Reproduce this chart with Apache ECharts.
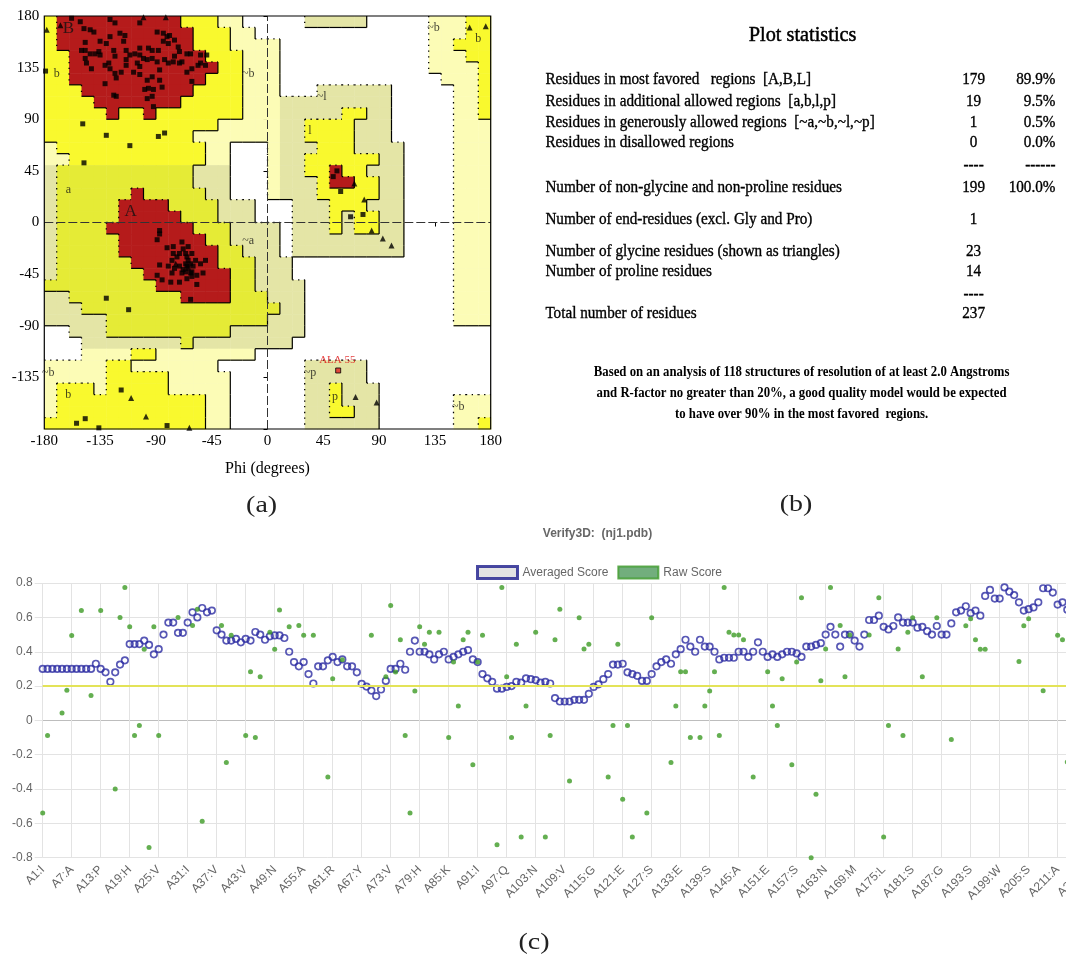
<!DOCTYPE html>
<html><head><meta charset="utf-8">
<script src="https://cdn.jsdelivr.net/npm/echarts@6/dist/echarts.min.js"></script>
<style>
html,body{margin:0;padding:0;background:#fff;overflow:hidden;width:1066px;height:957px}
#c{width:1194px;height:957px}
</style></head>
<body><div id="c"></div>
<script>
// ================= DATA =================
// ---- (a) Ramachandran plot ----
const RAMA_TICKS = [-180, -135, -90, -45, 0, 45, 90, 135, 180];
// region map, 10-degree cells, rows from psi 180 down to -180, columns phi -180 -> 180
// '.' disallowed, 'c'/'o' generously allowed, 'Y'/'y' additional allowed, 'R' most favoured (run-length coded)
const REGION_ROWS = [
"Y1 R10 Y3 c2 .5 o5 .5 c3 Y2",
"Y1 R11 Y3 c2 .14 c3 Y2",
"Y1 R11 Y3 c4 .12 c2 Y3",
"Y2 R11 Y3 c3 .12 c3 Y2",
"Y2 R12 Y2 c3 .12 c4 Y1",
"Y2 R11 Y3 c3 .13 c3 Y1",
"Y3 R9 Y4 c3 .3 o6 .5 c2 Y1",
"Y4 R7 Y5 c3 o9 .5 c2 Y1",
"Y5 R1 Y2 R1 Y7 c3 o5 Y2 o2 .5 c2 Y1",
"Y14 c5 o2 Y4 o3 .5 c3",
"Y12 c7 o2 Y4 o3 .5 c3",
"c1 Y12 c2 .3 c1 o3 Y3 o4 .4 c3",
"c2 Y11 c2 .3 c1 o2 Y6 o2 .4 c3",
"o1 y11 o3 .3 c1 o2 Y2 R1 Y2 o3 .4 c3",
"o1 y11 o3 .3 c1 o3 Y1 R2 Y2 o2 .4 c3",
"o1 y6 R1 y5 o2 .3 c1 o3 Y5 o2 .4 c3",
"o1 y5 R4 y4 o3 .3 o3 Y3 o3 .4 c3",
"o1 y5 R5 y3 o3 .3 o3 Y1 o1 Y2 o2 .4 c3",
"o1 y4 R7 y3 o4 .1 o3 Y1 o1 Y2 o2 .4 c3",
"o1 y5 R7 y2 o4 .1 o9 .4 c3",
"o1 y5 R8 y2 o3 .1 o9 .4 c3",
"o1 y6 R7 y3 o3 .13 c3",
"o1 y7 R7 y2 o3 .13 c3",
"y9 R6 y2 o4 .12 c3",
"o2 y9 R4 y3 o3 .12 c3",
"o3 y16 o2 .12 c3",
"o5 y13 o3 .12 c3",
".2 o3 y10 o6 .15",
".3 o8 y1 o8 .16",
".3 c4 Y2 c8 .19",
"c5 Y2 c7 .7 o5 .10",
"c5 Y5 c5 .6 o5 .10",
"c1 Y3 c1 Y5 c5 .6 o2 Y1 o3 .9",
"c1 Y12 c2 .6 o2 Y1 o3 .6 c3",
"c1 Y12 c2 .6 o2 Y2 o2 .6 c3",
"Y13 c2 .6 o6 .6 c2 Y1"
];
// non-glycine residues (squares)
const SQ_PHI = [-158,-151,-148,-143,-140,-127,-123,-103,-89,-84,-81,-80,-75,-72,-71,-65,-62,-54,-49,-54,-50,-61,-65,-61,-71,-76,-83,-89,-93,-100,-97,-103,-107,-111,-105,-108,-103,-97,-96,-99,-92,-87,-85,-93,-103,-114,-114,-116,-115,-119,-127,-130,-135,-136,-135,-139,-143,-147,-146,-142,-147,-150,-147,-131,-128,-127,-123,-122,-118,-114,-123,-124,-131,-124,-122,-97,-93,-92,-87,-80,-75,-69,-56,-79,-84,-93,-88,-96,-103,
 -149,-130,-88,-83,-111,-148,-179,
 -87,-87,-89,-81,-76,-69,-68,-66,-65,-64,-62,-65,-66,-62,-60,-58,-61,-64,-71,-73,-76,-77,-80,-87,-89,-85,-78,-77,-71,-69,-65,-61,-57,-52,-50,-54,-57,-62,-71,-75,-66,-64,-68,-61,
 -130,-112,53,56,59,67,77,-118,-147,-154,-136,-81];
const SQ_PSI = [178,175,169,168,166,177,174,174,166,165,162,156,159,153,149,147,147,146,146,139,137,134,131,123,139,140,142,140,143,143,142,146,147,146,139,131,129,124,117,116,116,124,118,127,136,142,150,158,163,165,162,156,158,149,146,147,147,143,139,134,150,150,157,137,139,134,130,126,131,137,145,150,121,111,110,108,110,101,133,139,145,140,137,163,158,150,150,152,152,
 86,76,75,78,67,52,132,
 -7,-10,-15,-22,-21,-17,-23,-27,-30,-33,-36,-38,-43,-44,-38,-33,-27,-21,-27,-30,-27,-33,-38,-37,-46,-50,-52,-44,-38,-44,-49,-47,-46,-44,-33,-36,-54,-67,-52,-40,-36,-40,-41,-43,
 -66,-76,40,45,27,5,7,-146,-171,-175,-179,-177];
// glycine residues (triangles)
const TRI_PHI = [-178,-100,-82,-167,-74,70,78,84,93,100,71,88,-110,-98,-63,163,176];
const TRI_PSI = [168,179,179,172,-36,34,20,-7,-14,-20,-152,-157,-153,-169,-179,170,171];
// labelled outlier
const OUT_NAME = ['ALA 55'];
const OUT_PHI = [57];
const OUT_PSI = [-129];
// region letters
const REGION_TEXT = ['B','A','b','a','~b','~l','l','~a','~b','b','~b','b','~p','p','~b'];
const REGION_TEXT_PHI = [-160.6,-110.4,-170,-160.6,-15.5,43.7,34.3,-15.5,133.8,170,-176.8,-160.6,34.3,54.4,153.9];
const REGION_TEXT_PSI = [169.3,9.5,129.4,28.3,129.4,109.7,80.1,-15.8,169.3,159.7,-130.9,-150.3,-131.4,-151.8,-161.1];

// ---- (b) plot statistics ----
const STAT_TITLE = 'Plot statistics';
const STAT_LABELS = ['Residues in most favored   regions  [A,B,L]','Residues in additional allowed regions  [a,b,l,p]','Residues in generously allowed regions  [~a,~b,~l,~p]','Residues in disallowed regions','','Number of non-glycine and non-proline residues','Number of end-residues (excl. Gly and Pro)','Number of glycine residues (shown as triangles)','Number of proline residues','','Total number of residues'];
const STAT_COUNTS = ['179','19','1','0','----','199','1','23','14','----','237'];
const STAT_PCTS = ['89.9%','9.5%','0.5%','0.0%','------','100.0%','','','','',''];
const NOTE_LINES = ['Based on an analysis of 118 structures of resolution of at least 2.0 Angstroms','and R-factor no greater than 20%, a good quality model would be expected','to have over 90% in the most favored  regions.'];
const CAPTIONS = ['(a)','(b)','(c)'];

// ---- (c) Verify3D ----
const V3D_TITLE = 'Verify3D:  (nj1.pdb)';
const RESIDUE_COUNT = 237;
const TICK_LABELS = ['A1:I','A7:A','A13:P','A19:H','A25:V','A31:I','A37:V','A43:V','A49:N','A55:A','A61:R','A67:Y','A73:V','A79:H','A85:K','A91:I','A97:Q','A103:N','A109:V','A115:G','A121:E','A127:S','A133:E','A139:S','A145:A','A151:E','A157:S','A163:N','A169:M','A175:L','A181:S','A187:G','A193:S','A199:W','A205:S','A211:A','A217:  ','A223:  ','A229:  ','A235:  '];
const Y_TICKS = [-0.8,-0.6,-0.4,-0.2,0,0.2,0.4,0.6,0.8];
const AVG_SCORE = [
0.30,0.30,0.30,0.30,0.30,0.30,0.30,0.30,0.30,0.30,
0.30,0.33,0.30,0.28,0.225,0.28,0.325,0.35,0.445,0.445,
0.445,0.465,0.44,0.385,0.415,0.50,0.57,0.57,0.51,0.51,
0.57,0.63,0.60,0.655,0.63,0.64,0.525,0.50,0.465,0.465,
0.475,0.455,0.475,0.465,0.515,0.50,0.47,0.49,0.495,0.495,
0.48,0.40,0.34,0.315,0.34,0.27,0.215,0.315,0.315,0.35,
0.37,0.34,0.355,0.315,0.315,0.28,0.213,0.197,0.174,0.142,
0.18,0.23,0.30,0.30,0.33,0.295,0.40,0.465,0.40,0.40,
0.385,0.355,0.385,0.40,0.355,0.37,0.385,0.40,0.41,0.355,
0.34,0.27,0.245,0.225,0.185,0.185,0.195,0.20,0.225,0.22,
0.245,0.24,0.235,0.22,0.225,0.215,0.13,0.11,0.11,0.11,
0.12,0.12,0.12,0.155,0.195,0.21,0.24,0.27,0.325,0.325,
0.33,0.28,0.27,0.26,0.23,0.23,0.27,0.315,0.34,0.355,
0.33,0.385,0.415,0.47,0.43,0.40,0.47,0.43,0.43,0.40,
0.355,0.365,0.365,0.365,0.40,0.40,0.37,0.40,0.455,0.40,
0.37,0.385,0.37,0.385,0.40,0.40,0.39,0.37,0.43,0.43,
0.44,0.45,0.50,0.545,0.50,0.43,0.50,0.50,0.465,0.43,
0.50,0.585,0.585,0.61,0.545,0.53,0.55,0.60,0.57,0.57,
0.57,0.54,0.545,0.52,0.50,0.55,0.50,0.50,0.565,0.63,
0.64,0.665,0.625,0.64,0.61,0.725,0.76,0.71,0.71,0.775,
0.75,0.73,0.688,0.64,0.648,0.658,0.688,0.77,0.77,0.745,
0.675,0.688,0.645];
const RAW_RESIDUE = [1,2,5,6,7,9,11,13,16,17,18,19,20,21,22,23,24,25,29,32,33,34,38,39,40,43,44,45,46,48,49,50,52,54,55,57,60,61,63,69,72,73,74,75,76,77,78,79,80,81,83,85,86,87,88,89,90,91,92,95,96,97,98,99,100,101,103,105,106,107,108,110,112,113,114,118,119,120,121,122,123,126,127,131,132,133,134,135,137,138,139,140,141,142,143,144,145,146,148,151,152,153,154,156,157,158,160,161,162,163,164,166,167,168,172,174,175,176,178,179,180,181,183,186,189,192,193,194,195,196,203,204,205,208,211,212,213];
const RAW_SCORE = [-0.54,-0.088,0.043,0.175,0.495,0.64,0.145,0.64,-0.40,0.60,0.775,0.545,-0.088,-0.029,0.415,-0.74,0.545,-0.088,0.60,0.553,0.647,-0.587,0.553,-0.246,0.496,-0.088,0.284,-0.10,0.255,0.513,0.415,0.643,0.545,0.553,0.496,0.496,-0.33,0.243,0.353,0.496,0.255,0.67,0.282,0.47,-0.088,-0.54,0.172,0.545,0.443,0.513,0.513,-0.10,0.341,0.084,0.47,0.513,-0.258,0.34,0.496,-0.724,0.775,0.255,-0.10,0.443,-0.68,0.084,0.513,-0.68,-0.088,0.47,0.647,-0.353,0.598,0.416,0.443,-0.33,-0.029,0.443,-0.459,-0.029,-0.68,-0.54,0.598,-0.246,0.084,0.284,0.284,-0.10,-0.10,0.084,0.172,0.284,-0.088,0.775,0.514,0.498,0.498,0.47,-0.33,0.284,0.084,-0.029,0.243,-0.258,0.341,0.714,-0.80,-0.43,0.231,0.416,0.775,0.553,0.255,0.498,0.498,0.714,-0.68,-0.029,0.416,-0.088,0.514,0.598,0.255,0.598,-0.111,0.552,0.593,0.47,0.415,0.415,0.343,0.552,0.593,0.173,0.496,0.47,-0.242];

// ================= BUILD =================
const SERIF = '"Liberation Serif", "Times New Roman", serif';
const SANS = '"Liberation Sans", Arial, sans-serif';
const CODE_LIST = ['.', 'c', 'o', 'Y', 'y', 'R'];
const CODE_COLOR = ['#ffffff', '#fcfcb6', '#e4e5a6', '#f9f92e', '#e5eb36', '#b51b1b'];
const CODE_LEVEL = [0, 1, 1, 2, 2, 3];

const grid = REGION_ROWS.map(row => {
  const out = [];
  row.split(' ').forEach(tok => { const c = CODE_LIST.indexOf(tok[0]); const n = parseInt(tok.slice(1), 10); for (let i = 0; i < n; i++) out.push(c); });
  if (out.length !== 36) console.warn('row length', out.length, row);
  return out;
});
const cellData = [], edgeData = [];
for (let r = 0; r < 36; r++) {
  for (let k = 0; k < 36; k++) {
    const phi = -180 + 10 * k, psiTop = 180 - 10 * r, psiBot = psiTop - 10;
    const code = grid[r][k];
    if (code !== 0) cellData.push([phi, psiBot, code]);
    const L = CODE_LEVEL[code];
    if (k < 35) {
      const L2 = CODE_LEVEL[grid[r][k + 1]];
      if (L2 !== L) edgeData.push([phi + 10, psiTop, phi + 10, psiBot, L < L2 ? 1 : 0]);
    }
    if (r < 35) {
      const L2 = CODE_LEVEL[grid[r + 1][k]];
      if (L2 !== L) edgeData.push([phi, psiBot, phi + 10, psiBot, L < L2 ? 1 : 0]);
    }
  }
}

const categories = [];
for (let i = 1; i <= RESIDUE_COUNT; i++) {
  categories.push((i - 1) % 6 === 0 ? TICK_LABELS[(i - 1) / 6] : 'A' + i);
}

// text fitting helper (reference text is a condensed serif)
const mctx = document.createElement('canvas').getContext('2d');
function tw(text, font) { mctx.font = font; return mctx.measureText(text).width; }

const graphics = [];
function gText(text, x, y, opts) {
  const style = { text: text, x: 0, y: 0, font: opts.font, fill: opts.fill || '#111',
      align: opts.align || 'left', textAlign: opts.align || 'left',
      verticalAlign: 'middle', textVerticalAlign: 'middle' };
  if (opts.heavy) { style.stroke = opts.fill || '#111'; style.lineWidth = opts.heavy; }
  graphics.push({ type: 'text', x: x, y: y, scaleX: opts.scaleX || 1, silent: true, z: 100, style: style });
}

// captions
const CAP_FONT = '24px ' + SERIF;
const capScale = 31 / tw('(a)', CAP_FONT);
const CAP_POS = [[261.6, 505.5], [796, 505], [534, 943]];
CAPTIONS.forEach((t, i) => gText(t, CAP_POS[i][0], CAP_POS[i][1], { font: CAP_FONT, scaleX: capScale, align: 'center', fill: '#222' }));

// plot statistics block
const ST_FONT = '16px ' + SERIF;
const ST_LEFT = 545.4, ST_NUM_X = 973.6, ST_PCT_X = 1055.5;
const ST_ROW_Y = [79.8, 101.4, 122.6, 143.1, 165.5, 187.5, 219.3, 251.8, 272, 294.5, 314];
const ST_LABEL_RIGHT = [812, 834, 873.6, 734.4, null, 842, 813, 839.4, 711.9, null, 698.2];
let tgt = 0, meas = 0;
STAT_LABELS.forEach((t, i) => { if (t && ST_LABEL_RIGHT[i]) { tgt += ST_LABEL_RIGHT[i] - ST_LEFT; meas += tw(t, ST_FONT); } });
const stScale = tgt / meas;
const TITLE_FONT = '22px ' + SERIF;
gText(STAT_TITLE, 802.6, 35.4, { font: TITLE_FONT, scaleX: 107.7 / tw(STAT_TITLE, TITLE_FONT), align: 'center', fill: '#000', heavy: 0.5 });
STAT_LABELS.forEach((t, i) => {
  if (t) gText(t, ST_LEFT, ST_ROW_Y[i], { font: ST_FONT, scaleX: stScale, fill: '#000', heavy: 0.35 });
  if (STAT_COUNTS[i]) gText(STAT_COUNTS[i], ST_NUM_X, ST_ROW_Y[i], { font: ST_FONT, scaleX: stScale, align: 'center', fill: '#000', heavy: 0.35 });
  if (STAT_PCTS[i]) gText(STAT_PCTS[i], ST_PCT_X, ST_ROW_Y[i], { font: ST_FONT, scaleX: stScale, align: 'right', fill: '#000', heavy: 0.35 });
});
const NOTE_FONT = 'bold 15px ' + SERIF;
const NOTE_W = [417, 405.5, 256.4];
let nt = 0, nm = 0;
NOTE_LINES.forEach((t, i) => { nt += NOTE_W[i]; nm += tw(t, NOTE_FONT); });
const noteScale = nt / nm;
const NOTE_Y = [372, 393.5, 414];
NOTE_LINES.forEach((t, i) => gText(t, 801.6, NOTE_Y[i], { font: NOTE_FONT, scaleX: noteScale, align: 'center', fill: '#000' }));
// Verify3D title
gText(V3D_TITLE, 597.5, 533.3, { font: 'bold 12px ' + SANS, align: 'center', fill: '#666' });

const chart = echarts.init(document.getElementById('c'), null, { renderer: 'canvas' });
const GRIDC = '#e3e3e3';
const ySplitColors = Y_TICKS.map(v => Math.abs(v) < 1e-9 ? '#bdbdbd' : GRIDC);

chart.setOption({
  animation: false,
  graphic: graphics,
  grid: [
    { left: 44.3, top: 16, width: 446.4, height: 413, show: true, borderColor: '#000', borderWidth: 1.2, backgroundColor: 'transparent', z: 10 },
    { left: 42.7, top: 583.1, width: 1140.6, height: 274.6, show: false }
  ],
  legend: {
    left: 471, top: 560, itemWidth: 40, itemHeight: 12, itemGap: 9, selectedMode: false,
    textStyle: { fontFamily: SANS, fontSize: 12, color: '#666' },
    data: [
      { name: 'Averaged Score', icon: 'rect', itemStyle: { color: '#dcdcdc', borderColor: '#1c1c8c', borderWidth: 3 } },
      { name: 'Raw Score', icon: 'rect', itemStyle: { color: '#4f9a5d', borderColor: '#3f9b2c', borderWidth: 2 } }
    ]
  },
  xAxis: [
    { type: 'value', gridIndex: 0, min: -180, max: 180, interval: 45,
      name: 'Phi (degrees)', nameLocation: 'middle', nameGap: 32,
      nameTextStyle: { fontFamily: SERIF, fontSize: 16, color: '#000' },
      axisLine: { show: false }, splitLine: { show: false },
      axisTick: { show: true, length: 4, lineStyle: { color: '#000' } },
      axisLabel: { fontFamily: SERIF, fontSize: 15, color: '#000', margin: 5 } },
    { type: 'category', gridIndex: 1, data: categories, boundaryGap: false,
      axisLine: { show: false },
      axisTick: { show: true, interval: 5, length: 8, lineStyle: { color: GRIDC } },
      splitLine: { show: true, interval: 5, lineStyle: { color: GRIDC, width: 1 } },
      axisLabel: { interval: 5, rotate: 45, margin: 10, fontFamily: SANS, fontSize: 12, color: '#666' } }
  ],
  yAxis: [
    { type: 'value', gridIndex: 0, min: -180, max: 180, interval: 45,
      axisLine: { show: false }, splitLine: { show: false },
      axisTick: { show: true, length: 4, lineStyle: { color: '#000' } },
      axisLabel: { fontFamily: SERIF, fontSize: 15, color: '#000', margin: 5,
        formatter: v => (v === -180 ? '' : String(v)) } },
    { type: 'value', gridIndex: 1, min: -0.8, max: 0.8, interval: 0.2,
      axisLine: { show: false },
      axisTick: { show: true, length: 8, lineStyle: { color: GRIDC } },
      splitLine: { show: true, lineStyle: { color: ySplitColors, width: 1 } },
      axisLabel: { fontFamily: SANS, fontSize: 12, color: '#666', margin: 10,
        formatter: v => { const r = Math.round(v * 10) / 10; return r === 0 ? '0' : String(r); } } }
  ],
  series: [
    { type: 'custom', name: 'regions', xAxisIndex: 0, yAxisIndex: 0, silent: true, z: 1,
      data: cellData,
      renderItem: (params, api) => {
        const phi = api.value(0), psi = api.value(1);
        const p1 = api.coord([phi, psi + 10]), p2 = api.coord([phi + 10, psi]);
        return { type: 'rect', shape: { x: p1[0], y: p1[1], width: p2[0] - p1[0] + 0.5, height: p2[1] - p1[1] + 0.5 },
          style: { fill: CODE_COLOR[api.value(2)] } };
      } },
    { type: 'custom', name: 'edges', xAxisIndex: 0, yAxisIndex: 0, silent: true, z: 2,
      data: edgeData,
      renderItem: (params, api) => {
        const a = api.coord([api.value(0), api.value(1)]), b = api.coord([api.value(2), api.value(3)]);
        const dotted = api.value(4) === 1;
        return { type: 'line', shape: { x1: a[0], y1: a[1], x2: b[0], y2: b[1] },
          style: { stroke: '#000', lineWidth: dotted ? 1.3 : 1.2, lineDash: dotted ? [1.3, 4.5] : null } };
      } },
    { type: 'scatter', name: 'zero', xAxisIndex: 0, yAxisIndex: 0, data: [], silent: true, z: 3,
      markLine: { silent: true, symbol: 'none', label: { show: false },
        lineStyle: { color: '#333', width: 1, type: [9, 3] },
        data: [{ xAxis: 0 }, { yAxis: 0 }] } },
    { type: 'scatter', name: 'non-Gly', xAxisIndex: 0, yAxisIndex: 0, z: 4, symbol: 'rect', symbolSize: 5,
      itemStyle: { color: '#000' }, data: SQ_PHI.map((p, i) => [p, SQ_PSI[i]]) },
    { type: 'scatter', name: 'Gly', xAxisIndex: 0, yAxisIndex: 0, z: 4, symbol: 'triangle', symbolSize: 6,
      itemStyle: { color: '#000' }, data: TRI_PHI.map((p, i) => [p, TRI_PSI[i]]) },
    { type: 'scatter', name: 'outlier', xAxisIndex: 0, yAxisIndex: 0, z: 4, symbol: 'rect', symbolSize: 5,
      itemStyle: { color: '#e02020', borderColor: '#000', borderWidth: 1 },
      data: OUT_PHI.map((p, i) => ({ value: [p, OUT_PSI[i]], name: OUT_NAME[i] })),
      label: { show: true, formatter: '{b}', position: [-16, -13], color: '#e01010', fontFamily: SERIF, fontSize: 11 } },
    { type: 'scatter', name: 'region letters', xAxisIndex: 0, yAxisIndex: 0, z: 5, symbolSize: 0, silent: true,
      data: REGION_TEXT.map((t, i) => ({ value: [REGION_TEXT_PHI[i], REGION_TEXT_PSI[i]], name: t,
        label: (t === 'A' || t === 'B') ? { fontSize: 17 } : {} })),
      label: { show: true, position: 'inside', formatter: '{b}', color: '#111', fontFamily: SERIF, fontSize: 12 } },
    { type: 'scatter', name: 'Averaged Score', xAxisIndex: 1, yAxisIndex: 1, z: 4, symbol: 'circle', symbolSize: 6.5,
      itemStyle: { color: 'rgba(255,255,255,0)', borderColor: '#2d2da3', borderWidth: 1.7 },
      data: AVG_SCORE,
      markLine: { silent: true, symbol: 'none', label: { show: false },
        lineStyle: { color: '#e3e358', width: 2, type: 'solid' }, data: [{ yAxis: 0.2 }] } },
    { type: 'scatter', name: 'Raw Score', xAxisIndex: 1, yAxisIndex: 1, z: 5, symbol: 'circle', symbolSize: 5,
      itemStyle: { color: '#3d9b25' },
      data: RAW_RESIDUE.map((r, i) => [r - 1, RAW_SCORE[i]]) }
  ]
});
</script>
</body></html>
